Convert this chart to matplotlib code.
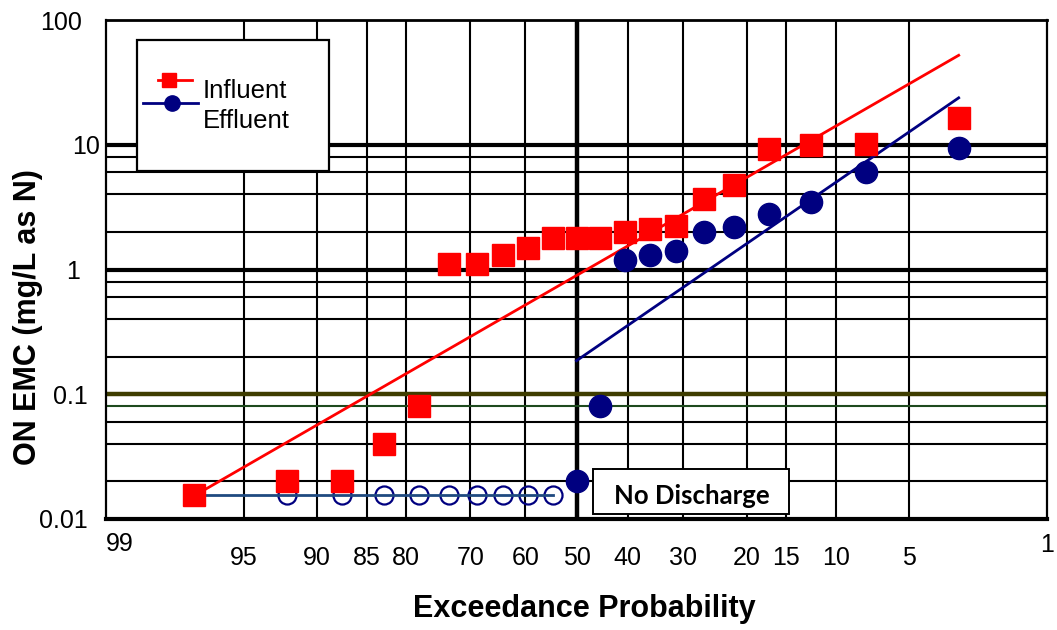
import numpy as np
import matplotlib
matplotlib.use("Agg")
import matplotlib.pyplot as plt
from matplotlib.patches import Rectangle
from statistics import NormalDist

plt.rcParams['font.family'] = ['Liberation Sans', 'DejaVu Sans']

# exceedance probability (%) of each ranked event
exceed = [97.06, 92.35, 87.65, 82.94, 78.24, 73.53, 68.82, 64.12, 59.41, 54.71, 50.0,
          45.29, 40.59, 35.88, 31.18, 26.47, 21.76, 17.06, 12.35, 7.65, 2.94]
influent = [0.0155, 0.02, 0.02, 0.04, 0.08, 1.1, 1.1, 1.3, 1.5, 1.8, 1.8,
            1.8, 2.0, 2.1, 2.25, 3.7, 4.8, 9.2, 10.0, 10.2, 16.5]
# effluent: first events had no discharge, plotted at the detection floor
eff_nd_exceed = exceed[1:10]
eff_nd = [0.0155] * 9
eff_exceed = exceed[10:]
effluent = [0.02, 0.08, 1.2, 1.3, 1.4, 2.0, 2.2, 2.8, 3.5, 6.1, 9.4]

# lognormal fits (log10 median, log10 std)
infl_mu, infl_sigma = -0.048, 0.934
eff_mu, eff_sigma = -0.731, 1.115

prob_ticks = [99, 95, 90, 85, 80, 70, 60, 50, 40, 30, 20, 15, 10, 5, 1]
prob_grid = [95, 90, 85, 80, 70, 60, 40, 30, 20, 15, 10, 5]
conc_grid = [0.02, 0.04, 0.06, 0.2, 0.4, 0.6, 0.8, 2, 4, 6, 8]
conc_ticks = [100, 10, 1, 0.1, 0.01]
conc_labels = ['100', '10', '1', '0.1', '0.01']

_nd = NormalDist()


def prob_fwd(p):
    p = np.clip(np.asarray(p, float), 1e-4, 100 - 1e-4)
    return np.vectorize(lambda v: _nd.inv_cdf(v / 100), otypes=[float])(p)


def prob_inv(z):
    z = np.asarray(z, float)
    return np.vectorize(lambda v: 100 * _nd.cdf(v), otypes=[float])(z)


def fit_line(mu, sigma, p):
    # standard normal variate of the non-exceedance probability
    z = -prob_fwd(p)
    return 10 ** (mu + sigma * z)


fig = plt.figure(figsize=(10.57, 6.30), dpi=100)
ax = fig.add_axes([106 / 1057, 1 - 519 / 630, 941 / 1057, 499 / 630])
ax.set_xscale('function', functions=(prob_fwd, prob_inv))
ax.set_yscale('log')
ax.set_xlim(99, 1)
ax.set_ylim(0.01, 100)
ax.set_xticks([])
ax.set_yticks([])
ax.set_yticks([], minor=True)

# grid
for p in prob_grid:
    ax.axvline(p, color='black', lw=1.5, zorder=1)
ax.axvline(50, color='black', lw=3.2, zorder=1)
for c in conc_grid:
    ax.axhline(c, color='black', lw=1.5, zorder=1)
for c in [1, 10]:
    ax.axhline(c, color='black', lw=3.0, zorder=1)
ax.axhline(0.1, color='#3f3d00', lw=3.2, zorder=1.5)
ax.axhline(0.08, color='#1e4a1e', lw=1.5, zorder=1.5)

for side, w in [('left', 1.6), ('right', 1.6), ('top', 2.0), ('bottom', 3.0)]:
    ax.spines[side].set_linewidth(w)
    ax.spines[side].set_color('black')

# effluent non-discharge points and floor line
ax.plot(eff_nd_exceed, eff_nd, 'o', ms=13, mfc='none', mec='#000080', mew=1.6, zorder=3)
ax.plot([exceed[0], exceed[9]], [eff_nd[0], eff_nd[-1]], color='#1f4a80', lw=2, zorder=3.5)

# fitted lines
ax.plot([exceed[0], exceed[-1]],
        fit_line(infl_mu, infl_sigma, [exceed[0], exceed[-1]]),
        color='#ff0000', lw=2, zorder=4)
ax.plot([eff_exceed[0], eff_exceed[-1]],
        fit_line(eff_mu, eff_sigma, [eff_exceed[0], eff_exceed[-1]]),
        color='#000080', lw=2, zorder=4)

ax.plot(eff_exceed, effluent, 'o', ms=16, color='#000080', mec='#000080', zorder=5)
ax.plot(exceed, influent, 's', ms=16, color='#ff0000', mec='#ff0000', zorder=6)

# tick labels
for p in prob_ticks:
    yoff, ha = -0.073, 'center'
    if p == 99:
        yoff, ha = -0.045, 'left'
    elif p == 1:
        yoff = -0.048
    ax.text(p, yoff, str(p), transform=ax.get_xaxis_transform(), ha=ha,
            va='center_baseline', fontsize=18, clip_on=False)
label_x = [-0.0255, -0.0064, -0.0276, -0.0191, -0.0191]
for c, lab, lx in zip(conc_ticks, conc_labels, label_x):
    ax.text(lx, c, lab, transform=ax.get_yaxis_transform(), ha='right',
            va='center_baseline', fontsize=18, clip_on=False)

fig.text(584 / 1057, 1 - 617 / 630, 'Exceedance Probability', ha='center',
         va='baseline', fontsize=22, fontweight='bold')
fig.text(28 / 1057, 1 - 317 / 630, 'ON EMC (mg/L as N)', ha='center', va='center',
         rotation=90, fontsize=22, fontweight='bold')

# legend
ax.add_patch(Rectangle((0.033, 0.697), 0.204, 0.2625, transform=ax.transAxes,
                       facecolor='white', edgecolor='black', lw=1.6, zorder=8))
ax.plot([0.0552, 0.0914], [0.880, 0.880], color='#ff0000', lw=2,
        transform=ax.transAxes, zorder=9, clip_on=False)
ax.plot([0.067], [0.880], 's', ms=10, color='#ff0000', transform=ax.transAxes, zorder=9)
ax.plot([0.0393, 0.0978], [0.834, 0.834], color='#000080', lw=2,
        transform=ax.transAxes, zorder=9, clip_on=False)
ax.plot([0.0702], [0.834], 'o', ms=11, color='#000080', transform=ax.transAxes, zorder=9)
ax.text(0.103, 0.8437, 'Influent', transform=ax.transAxes, fontsize=18.5,
        va='baseline', zorder=9)
ax.text(0.103, 0.7836, 'Effluent', transform=ax.transAxes, fontsize=18.5,
        va='baseline', zorder=9)

# no discharge note
ax.add_patch(Rectangle((0.5175, 0.010), 0.2083, 0.090, transform=ax.transAxes,
                       facecolor='white', edgecolor='black', lw=1.4, zorder=8))
ax.text(0.6227, 0.030, 'No Discharge', transform=ax.transAxes, ha='center',
        va='baseline', fontsize=18.5, fontweight='bold', family=['Lato', 'DejaVu Sans'],
        zorder=9)

fig.savefig('out.png', dpi=100)
